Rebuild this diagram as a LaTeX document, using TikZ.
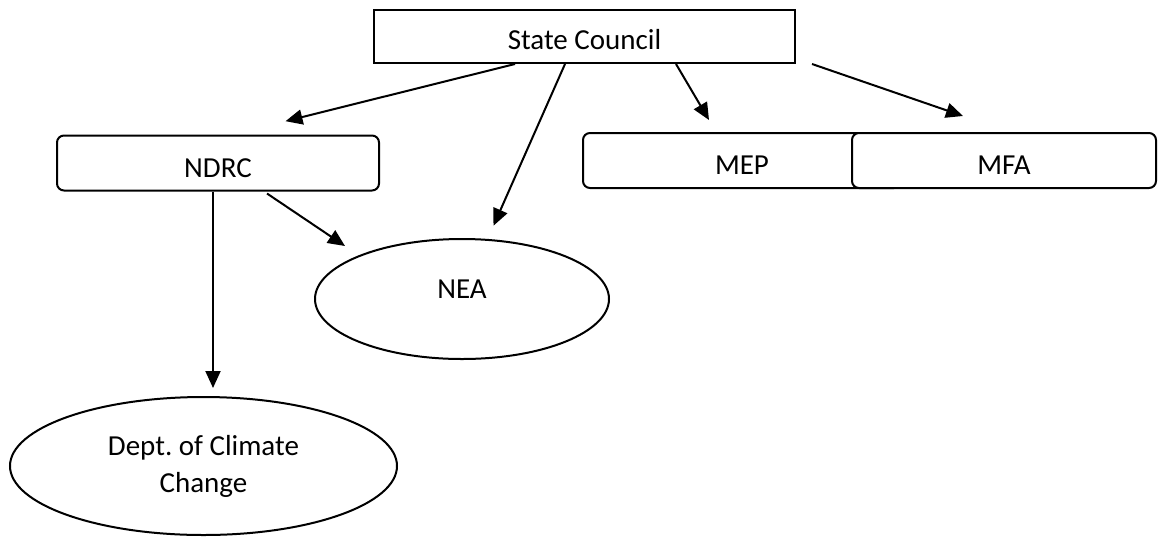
\documentclass[tikz,border=0pt]{standalone}
\usepackage{fontspec}
\setmainfont{Carlito}
\usetikzlibrary{arrows.meta,calc,shapes.geometric}

\begin{document}
\begin{tikzpicture}[x=1pt,y=-1pt,
    box/.style={draw,line width=2pt,fill=white,inner sep=0pt,font=\fontsize{29}{37}\selectfont},
    roundbox/.style={box,rounded corners=7pt,minimum height=55pt,text height=28pt,text depth=0pt},
    oval/.style={box,ellipse,align=center},
    arr/.style={-{Triangle[length=17pt,width=15pt]},line width=2pt}]
	\useasboundingbox (0,0) rectangle (1158,536);

	\node[box,minimum width=421pt,minimum height=53pt,text height=26pt,text depth=0pt] (sc) at (584.5,36.5) {State Council};
	\node[roundbox,minimum width=322pt] (ndrc) at (218,163) {NDRC};
	\node[roundbox,minimum width=318pt] (mep) at (742,160.5) {MEP};
	\node[roundbox,minimum width=304pt] (mfa) at (1004,160.5) {MFA};
	\node[oval,minimum width=294pt,minimum height=120pt,text height=18.7pt,text depth=20pt] (nea) at (462,299) {NEA};
	\node[oval,minimum width=387pt,minimum height=138pt,yshift=0pt] (dcc) at (203.5,466) {Dept.\ of Climate\\Change};

	\draw [arr] ($(sc.south west)+(142,0)$) to ($(ndrc.north)+(67.5,-13.3)$);
	\draw [arr] ($(sc.south west)+(192,0)$) to ($(nea.north)+(31.5,-12.3)$);
	\draw [arr] ($(sc.south west)+(303,0)$) to ($(mep.north)+(-33,-12)$);
	\draw [arr] ($(sc.south east)+(16,0)$) to ($(mfa.north)+(-41,-16)$);
	\draw [arr] ($(ndrc.south)+(49,2)$) to ($(nea.north)+(-117,8)$);
	\draw [arr] ($(ndrc.south)+(-5,0)$) to ($(dcc.north)+(9.5,-8)$);

\end{tikzpicture}
\end{document}
